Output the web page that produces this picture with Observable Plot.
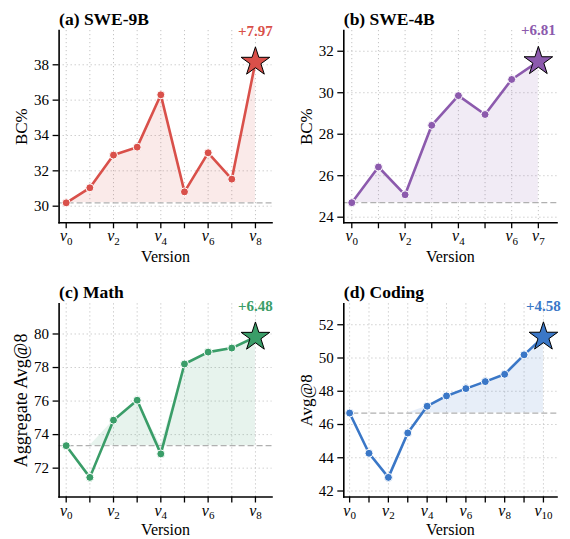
<!DOCTYPE html>
<html><head><meta charset="utf-8">
<script src="https://cdn.jsdelivr.net/npm/d3@7"></script>
<script src="https://cdn.jsdelivr.net/npm/@observablehq/plot@0.6"></script>
<style>
body{margin:0;background:#fff}
#wrap{position:relative;width:570px;height:539px;background:#fff}
#wrap svg{position:absolute;overflow:visible}
</style>
</head><body><div id="wrap"></div>
<script>
// ---- data ----
const sweNineB = [30.19, 31.04, 32.89, 33.34, 36.30, 30.81, 33.02, 31.53, 38.16];
const sweFourB = [24.70, 26.42, 25.08, 28.43, 29.86, 28.95, 30.64, 31.51];
const mathScores = [73.34, 71.45, 74.86, 76.05, 72.85, 78.21, 78.92, 79.16, 79.82];
const codingScores = [46.69, 44.27, 42.82, 45.49, 47.10, 47.72, 48.16, 48.58, 49.02, 50.19, 51.27];
const titles = ["(a) SWE-9B", "(b) SWE-4B", "(c) Math", "(d) Coding"];
const yLabels = ["BC%", "BC%", "Aggregate Avg@8", "Avg@8"];
const gains = ["+7.97", "+6.81", "+6.48", "+4.58"];
const yTickValues = [[30, 32, 34, 36, 38], [24, 26, 28, 30, 32], [72, 74, 76, 78, 80], [42, 44, 46, 48, 50, 52]];
const xLabelled = [[0, 2, 4, 6, 8], [0, 2, 4, 6, 7], [0, 2, 4, 6, 8], [0, 2, 4, 6, 8, 10]];
const xAxisLabel = "Version";

// ---- layout / style ----
const colors = ["#d9504a", "#8c5aad", "#3a9d68", "#3a77c7"];
const series = [sweNineB, sweFourB, mathScores, codingScores];
const layout = [
  {left: 0, top: 0, height: 270, mTop: 30, mBottom: 47.7, mLeft: 58.6, yDomain: [29.06, 39.94], vDy: 34.5},
  {left: 285, top: 0, height: 270, mTop: 30, mBottom: 47.7, mLeft: 58.3, yDomain: [23.73, 33.0], vDy: 34.5},
  {left: 0, top: 270, height: 269, mTop: 33.3, mBottom: 42.5, mLeft: 58.6, yDomain: [70.28, 81.8], vDy: 32.5},
  {left: 285, top: 270, height: 269, mTop: 33.3, mBottom: 42.5, mLeft: 58.3, yDomain: [41.64, 53.26], vDy: 32.5}
];
const FONT = "'Liberation Serif', 'Times New Roman', serif";
const wrap = document.getElementById("wrap");

series.forEach((values, k) => {
  const L = layout[k];
  const color = colors[k];
  const data = values.map((v, i) => ({i, v}));
  const base = values[0];
  const last = data[data.length - 1];
  const n = values.length - 1;
  const xt = d3.range(0, n + 1);
  const labelled = xLabelled[k];
  const grid = {stroke: "#c4c4c4", strokeOpacity: 1, strokeDasharray: "1.2,2.8", strokeWidth: 1};
  const chart = Plot.plot({
    width: 285, height: L.height,
    marginLeft: L.mLeft, marginRight: 13.5, marginTop: L.mTop, marginBottom: L.mBottom,
    style: {fontFamily: FONT, fontSize: "15px", background: "transparent", color: "#111"},
    x: {domain: [-0.3, n + 0.7]},
    y: {domain: L.yDomain},
    marks: [
      Plot.gridX(xt, grid),
      Plot.gridY(yTickValues[k], grid),
      Plot.areaY(data, {x: "i", y1: () => base, y2: d => Math.max(d.v, base), fill: color, fillOpacity: 0.12}),
      Plot.ruleY([base], {stroke: "#b0b0b0", strokeDasharray: "6,3", strokeWidth: 1.3}),
      Plot.line(data, {x: "i", y: "v", stroke: color, strokeWidth: 2.6}),
      Plot.dot(data.slice(0, -1), {x: "i", y: "v", r: 4, fill: color, stroke: "white", strokeWidth: 1}),
      Plot.dot([last], {x: "i", y: "v", symbol: "star", r: 9, fill: color, stroke: "black", strokeWidth: 1}),
      Plot.text([last], {x: "i", y: "v", text: () => gains[k], dy: -31, fill: color, fontWeight: "bold", fontSize: 15}),
      Plot.axisY(yTickValues[k], {tickSize: 6, tickPadding: 4, fontSize: 15, label: null, color: "black", strokeWidth: 1.3}),
      Plot.axisX(xt, {tickSize: 6, tickPadding: 2, label: null, color: "black", strokeWidth: 1.3,
        tickFormat: d => labelled.includes(d) ? "v" + d : ""}),
      Plot.frame({anchor: "left", stroke: "black", strokeWidth: 1.6}),
      Plot.frame({anchor: "bottom", stroke: "black", strokeWidth: 1.6}),
      Plot.text([titles[k]], {frameAnchor: "top-left", dy: -6, lineAnchor: "bottom", textAnchor: "start", fontWeight: "bold", fontSize: 17.5, fill: "black"}),
      Plot.text([yLabels[k]], {frameAnchor: "left", dx: -37.5, rotate: -90, textAnchor: "middle", lineAnchor: "middle", fontSize: k === 2 ? 18 : 17, fill: "black"}),
      Plot.text([xAxisLabel], {frameAnchor: "bottom", dy: L.vDy, textAnchor: "middle", lineAnchor: "middle", fontSize: 16, fill: "black"})
    ]
  });
  d3.select(chart).selectAll('g[aria-label="x-axis tick label"] text').each(function() {
    const t = this.textContent;
    if (!t) return;
    const num = t.slice(1);
    const sel = d3.select(this);
    sel.text(null);
    sel.append("tspan").attr("font-style", "italic").attr("font-size", 16).text("v");
    sel.append("tspan").attr("font-size", 11).attr("dy", "0.3em").text(num);
  });
  chart.style.left = L.left + "px";
  chart.style.top = L.top + "px";
  wrap.appendChild(chart);
});
</script>
</body></html>
